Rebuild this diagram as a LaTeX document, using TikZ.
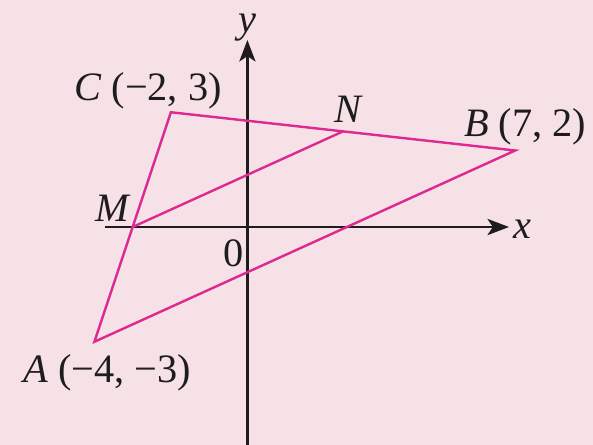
\documentclass[tikz,border=0pt]{standalone}
\usepackage{fontspec}
\setmainfont{Liberation Serif}
\usetikzlibrary{arrows.meta}
\definecolor{bgpink}{RGB}{246,226,230}
\definecolor{magline}{RGB}{221,42,145}
\definecolor{axiscol}{RGB}{30,28,30}
\tikzset{
  axis/.style={draw=axiscol, line width=2.1pt},
  axisarrow/.style={axis, -{Stealth[length=16pt, width=12pt, inset=4pt]}},
  tri/.style={draw=magline, line width=1.8pt, line join=miter},
  lbl/.style={inner sep=0pt, font=\fontsize{30}{34}\selectfont, text=axiscol},
  pt/.style={inner sep=0pt, minimum size=0pt}
}
\begin{document}
\begin{tikzpicture}[x=1cm,y=1cm]
\fill[bgpink] (-6.468,-5.699) rectangle (9.035,5.935);
\useasboundingbox (-6.468,-5.699) rectangle (9.035,5.935);
% axes
\coordinate (xs) at (-3.72,0);
\coordinate (xe) at (6.84,0);
\coordinate (ys) at (0,-5.75);
\coordinate (ye) at (0,4.89);
\draw[axisarrow] (xs) -- (xe);
\draw[axisarrow] (ys) -- (ye);
% points
\node[pt] (A) at (-4,-3) {};
\node[pt] (B) at (7,2) {};
\node[pt] (C) at (-2,3) {};
\node[pt] (M) at (-3,0) {};
\node[pt] (N) at (2.5,2.5) {};
\draw[tri] (A.center) -- (B.center) -- (C.center) -- cycle;
\draw[tri] (M.center) -- (N.center);
% labels
\node[lbl] (ylab) at (0,5.22) {\textit{y}};
\node[lbl, anchor=west] (xlab) at (6.95,-0.05) {\textit{x}};
\node[lbl] (Clab) at (-2.6,3.55) {\textit{C} (−2, 3)};
\node[lbl] (Nlab) at (2.66,3.08) {\textit{N}};
\node[lbl] (Blab) at (7.26,2.62) {\textit{B} (7, 2)};
\node[lbl] (Mlab) at (-3.5,0.5) {\textit{M}};
\node[lbl] (Olab) at (-0.35,-0.68) {0};
\node[lbl] (Alab) at (-3.67,-3.8) {\textit{A} (−4, −3)};
\end{tikzpicture}
\end{document}
